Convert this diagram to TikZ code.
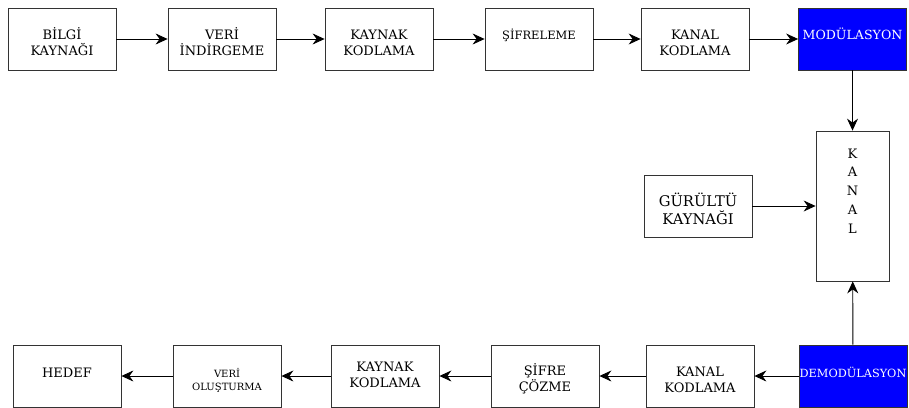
\documentclass[tikz,border=0pt]{standalone}
\usepackage{fontspec}
\setmainfont{DejaVu Serif}
\usetikzlibrary{arrows.meta}
\begin{document}
\begin{tikzpicture}[x=1pt,y=-1pt,
  blockbox/.style={draw=black!80,line width=0.8pt,fill=white,inner sep=0pt,
    minimum width=108pt,minimum height=62pt},
  bluebox/.style={blockbox,fill=blue},
  lbl/.style={anchor=base,align=center,inner sep=0pt,font=\fontsize{13}{16}\selectfont},
  flow/.style={draw=black,line width=0.9pt,-{Stealth[length=12pt,width=11pt,inset=4pt]}}]
\useasboundingbox (0,0) rectangle (909,407);

% transmitter chain (labels placed by the baseline of their last line)
\node[blockbox] (src)  at (62,39)  {};
\node[blockbox] (red)  at (222,39) {};
\node[blockbox] (senc) at (379,39) {};
\node[blockbox] (enc)  at (539,39) {};
\node[blockbox] (cenc) at (695,39) {};
\node[bluebox]  (mod)  at (852.5,39) {};
\node[lbl] at (62,55)  {BİLGİ\\KAYNAĞI};
\node[lbl] at (222,55) {VERİ\\İNDİRGEME};
\node[lbl] at (379,55) {KAYNAK\\KODLAMA};
\node[lbl,font=\fontsize{11.5}{15}\selectfont] at (539,39) {ŞİFRELEME};
\node[lbl] at (695,55) {KANAL\\KODLAMA};
\node[lbl,text=white,font=\fontsize{12.6}{16}\selectfont] at (852.5,39) {MODÜLASYON};

% channel and noise source
\node[blockbox,minimum width=73pt,minimum height=150pt] (ch) at (852.5,206) {};
\node[lbl,font=\fontsize{13}{18.75}\selectfont] at (852.5,233) {K\\A\\N\\A\\L};
\node[blockbox] (noise) at (698,206) {};
\node[lbl,font=\fontsize{14.7}{18}\selectfont] at (698,224) {GÜRÜLTÜ\\KAYNAĞI};

% receiver chain
\node[blockbox] (dst)  at (67,376)  {};
\node[blockbox] (rec)  at (227,376) {};
\node[blockbox] (sdec) at (385,376) {};
\node[blockbox] (dec)  at (545,376) {};
\node[blockbox] (cdec) at (700,376) {};
\node[bluebox]  (dem)  at (853,376) {};
\node[lbl] at (67,377) {HEDEF};
\node[lbl,font=\fontsize{10}{13}\selectfont] at (227,390) {VERİ\\OLUŞTURMA};
\node[lbl] at (385,387) {KAYNAK\\KODLAMA};
\node[lbl] at (545,391) {ŞİFRE\\ÇÖZME};
\node[lbl] at (700,392) {KANAL\\KODLAMA};
\node[lbl,text=white,font=\fontsize{11.3}{16}\selectfont] at (853,377) {DEMODÜLASYON};

% connectors
\draw[flow] (src) -- (red);
\draw[flow] (red) -- (senc);
\draw[flow] (senc) -- (enc);
\draw[flow] (enc) -- (cenc);
\draw[flow] (cenc) -- (mod);
\draw[flow] (mod) -- (ch);
\draw[flow] (noise) -- (ch);
\draw[flow] (dem) -- (ch);
\draw[flow] (dem) -- (cdec);
\draw[flow] (cdec) -- (dec);
\draw[flow] (dec) -- (sdec);
\draw[flow] (sdec) -- (rec);
\draw[flow] (rec) -- (dst);
\end{tikzpicture}
\end{document}
